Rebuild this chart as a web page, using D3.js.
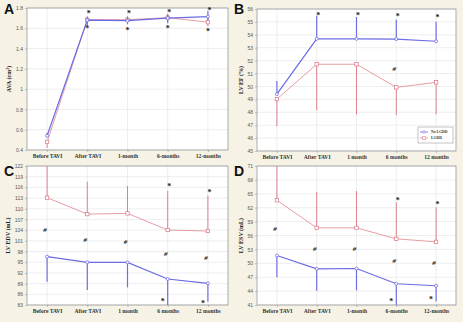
<!DOCTYPE html>
<html><head><meta charset="utf-8">
<script src="https://cdn.jsdelivr.net/npm/d3@7"></script>
<style>
html,body{margin:0;padding:0;background:#f6f3e6;}
svg{display:block;}
</style></head>
<body>
<svg id="c" width="463" height="322"></svg>
<script>
// ---------- DATA ----------
const catsDash = ["Before TAVI","After TAVI","1-month","6-months","12-months"];
const catsSpace = ["Before TAVI","After TAVI","1 month","6 months","12 months"];
const seriesNames = ["No LGDD","LGDD"];

// A: AVA (cm2)
const avaNo     = [0.54, 1.68, 1.675, 1.70, 1.715];
const avaNoHi   = [0.57, 1.71, 1.71, 1.74, 1.77];
const avaNoLo   = [0.54, 1.63, 1.64, 1.65, 1.68];
const avaL      = [0.48, 1.685, 1.685, 1.705, 1.66];
const avaLHi    = [0.48, 1.72, 1.72, 1.73, 1.70];
const avaLLo    = [0.42, 1.66, 1.65, 1.67, 1.62];
const avaStarTop = [null, 1.75, 1.75, 1.76, 1.78];
const avaStarBot = [null, 1.60, 1.59, 1.60, 1.58];
const avaHash    = [null, null, null, null, null];
const avaTicks = [0.4,0.6,0.8,1,1.2,1.4,1.6,1.8];

// B: LV EF (%)
const efNo    = [49.4, 53.69, 53.69, 53.67, 53.5];
const efNoHi  = [50.42, 55.48, 55.38, 55.17, 55.01];
const efNoLo  = [49.4, 53.69, 53.69, 53.67, 53.5];
const efL     = [49.02, 51.72, 51.72, 49.93, 50.32];
const efLHi   = [49.02, 51.72, 51.72, 49.93, 50.32];
const efLLo   = [46.92, 48.16, 47.83, 47.77, 47.85];
const efStarTop = [null, 55.58, 55.58, 55.48, 55.43];
const efStarBot = [null, null, null, null, null];
const efHash    = [null, null, null, 51.4, null];
const efTicks = [45,46,47,48,49,50,51,52,53,54,55,56];

// C: LV EDV (mL)
const edvNo   = [96.56, 94.97, 94.97, 90.29, 89.08];
const edvNoHi = [96.56, 94.97, 94.97, 90.29, 89.08];
const edvNoLo = [89.5, 87.2, 87.96, 83.0, 83.9];
const edvL    = [113.1, 108.5, 108.7, 104.04, 103.76];
const edvLHi  = [122, 117.6, 116.4, 115.0, 113.7];
const edvLLo  = [113.1, 108.5, 108.7, 104.04, 103.76];
const edvStarTop = [null, null, null, 116.4, 114.8];
const edvStarBot = [null, null, null, 84.2, 83.75];
const edvHash     = [104.2, 101.4, 100.8, 97.4, 96.4];
const edvTicks = [83,86,89,92,95,98,101,104,107,110,113,116,119,122];

// D: LV ESV (mL)
const esvNo   = [51.68, 48.8, 48.88, 45.58, 45.15];
const esvNoHi = [51.68, 48.8, 48.88, 45.58, 45.15];
const esvNoLo = [47.0, 44.07, 44.14, 41.0, 41.77];
const esvL    = [63.6, 57.65, 57.65, 55.28, 54.63];
const esvLHi  = [71, 65.4, 65.6, 63.2, 62.1];
const esvLLo  = [63.6, 57.65, 57.65, 55.28, 54.63];
const esvStarTop = [null, null, null, 63.7, 62.75];
const esvStarBot = [null, null, null, 41.9, 42.3];
const esvHash     = [57.5, 53.2, 53.2, 50.6, 50.2];
const esvTicks = [41,44,47,50,53,56,59,62,65,68,71];

// ---------- LAYOUT ----------
const panels = [
  {letter:"A", cats:catsDash, title:"AVA (cm", sup:"2", titleEnd:")", domain:[0.4,1.8], ticks:avaTicks,
   no:[avaNo,avaNoLo,avaNoHi], l:[avaL,avaLLo,avaLHi], starTop:avaStarTop, starBot:avaStarBot, hash:avaHash,
   box:{l:27,r:228,t:8,b:150}, lx:4, ly:14, tx:11, legend:false},
  {letter:"B", cats:catsSpace, title:"LV EF (%)", domain:[45,56], ticks:efTicks,
   no:[efNo,efNoLo,efNoHi], l:[efL,efLLo,efLHi], starTop:efStarTop, starBot:efStarBot, hash:efHash,
   box:{l:257,r:456,t:9,b:151}, lx:234, ly:14, tx:243, legend:true},
  {letter:"C", cats:catsSpace, title:"LV EDV (mL)", domain:[83,122], ticks:edvTicks,
   no:[edvNo,edvNoLo,edvNoHi], l:[edvL,edvLLo,edvLHi], starTop:edvStarTop, starBot:edvStarBot, hash:edvHash,
   box:{l:27,r:228,t:166,b:305}, lx:4, ly:176, tx:10, legend:false},
  {letter:"D", cats:catsDash, title:"LV ESV (mL)", domain:[41,71], ticks:esvTicks,
   no:[esvNo,esvNoLo,esvNoHi], l:[esvL,esvLLo,esvLHi], starTop:esvStarTop, starBot:esvStarBot, hash:esvHash,
   box:{l:257,r:456,t:166,b:305}, lx:234, ly:176, tx:243, legend:false}
];

const blue = "#6b6be6", blueBar = "#6f6fe4";
const red = "#e3929a", redBar = "#d97582";
const serif = "'Liberation Serif','DejaVu Serif',serif";
const sans = "'Liberation Sans','DejaVu Sans',sans-serif";

const svg = d3.select("#c");
svg.append("rect").attr("width",463).attr("height",322).attr("fill","#f6f3e6");

panels.forEach(p => {
  const g = svg.append("g");
  const B = p.box;
  const x = d3.scalePoint().domain(p.cats).range([B.l,B.r]).padding(0.5);
  const y = d3.scaleLinear().domain(p.domain).range([B.b,B.t]);

  g.append("rect").attr("x",B.l).attr("y",B.t).attr("width",B.r-B.l).attr("height",B.b-B.t)
    .attr("fill","#ffffff");

  // grid
  g.selectAll(".hg").data(p.ticks).join("line")
    .attr("x1",B.l).attr("x2",B.r).attr("y1",d=>y(d)).attr("y2",d=>y(d))
    .attr("stroke","#e2e2e2").attr("stroke-width",0.6);
  g.selectAll(".vg").data(p.cats).join("line")
    .attr("x1",d=>x(d)).attr("x2",d=>x(d)).attr("y1",B.t).attr("y2",B.b)
    .attr("stroke","#e2e2e2").attr("stroke-width",0.6);

  g.append("rect").attr("x",B.l).attr("y",B.t).attr("width",B.r-B.l).attr("height",B.b-B.t)
    .attr("fill","none").attr("stroke","#9a9a9a").attr("stroke-width",0.8);

  // y axis ticks
  const ya = d3.axisLeft(y).tickValues(p.ticks).tickSize(2).tickFormat(d3.format("~g"));
  const yg = g.append("g").attr("transform",`translate(${B.l},0)`).call(ya);
  yg.select(".domain").remove();
  yg.selectAll(".tick line").attr("stroke","#888").attr("stroke-width",0.5);
  yg.selectAll(".tick text").attr("font-family",sans).attr("font-size",5).attr("fill","#555").attr("x",-4);

  // x axis
  const xa = d3.axisBottom(x).tickSize(2);
  const xg = g.append("g").attr("transform",`translate(0,${B.b})`).call(xa);
  xg.select(".domain").remove();
  xg.selectAll(".tick line").attr("stroke","#888").attr("stroke-width",0.5);
  xg.selectAll(".tick text").attr("font-family",serif).attr("font-weight","bold")
    .attr("font-size",5.6).attr("fill","#333").attr("y",4);

  // y title
  const cy = (B.t+B.b)/2;
  const t = g.append("text").attr("transform",`translate(${p.tx},${cy}) rotate(-90)`)
    .attr("text-anchor","middle").attr("font-family",serif).attr("font-weight","bold")
    .attr("font-size",6).attr("fill","#222");
  t.append("tspan").text(p.title);
  if (p.sup) {
    t.append("tspan").text(p.sup).attr("font-size",4).attr("dy",-2);
    t.append("tspan").text(p.titleEnd).attr("dy",2);
  }

  // panel letter
  g.append("text").attr("x",p.lx).attr("y",p.ly).text(p.letter)
    .attr("font-family",sans).attr("font-weight","bold").attr("font-size",14).attr("fill","#111");

  const clip = "clip"+p.letter;
  g.append("clipPath").attr("id",clip).append("rect")
    .attr("x",B.l).attr("y",B.t).attr("width",B.r-B.l).attr("height",B.b-B.t);
  const pg = g.append("g").attr("clip-path",`url(#${clip})`);

  const drawSeries = (s, lineCol, barCol, lw, marker) => {
    const [vals, lo, hi] = s;
    const pts = p.cats.map((c,i)=>({c, v:vals[i], lo:lo[i], hi:hi[i]}));
    pg.selectAll(null).data(pts).join("line")
      .attr("x1",d=>x(d.c)).attr("x2",d=>x(d.c)).attr("y1",d=>y(d.lo)).attr("y2",d=>y(d.hi))
      .attr("stroke",barCol).attr("stroke-width",lw);
    pg.append("path").datum(pts)
      .attr("d",d3.line().x(d=>x(d.c)).y(d=>y(d.v)))
      .attr("fill","none").attr("stroke",lineCol).attr("stroke-width",lw);
    if (marker==="circle") {
      pg.selectAll(null).data(pts).join("circle")
        .attr("cx",d=>x(d.c)).attr("cy",d=>y(d.v)).attr("r",1.5)
        .attr("fill","#fff").attr("stroke",barCol).attr("stroke-width",0.8);
    } else {
      pg.selectAll(null).data(pts).join("rect")
        .attr("x",d=>x(d.c)-1.7).attr("y",d=>y(d.v)-1.7).attr("width",3.4).attr("height",3.4)
        .attr("fill","#fff").attr("stroke",barCol).attr("stroke-width",0.7);
    }
  };
  drawSeries(p.l, red, redBar, 0.9, "square");
  drawSeries(p.no, blue, blueBar, 1.2, "circle");

  // significance marks
  const mark = (arr, ch, dx, style) => {
    const d = p.cats.map((c,i)=>({c, v:arr[i]})).filter(d=>d.v!==null);
    g.selectAll(null).data(d).join("text")
      .attr("x",e=>x(e.c)+dx).attr("y",e=>y(e.v)+(ch==="*"?3.2:2.3))
      .attr("text-anchor","middle").text(ch)
      .attr("font-family",serif).attr("font-weight","bold")
      .attr("font-style",style).attr("font-size",ch==="*"?8:7).attr("fill","#222");
  };
  mark(p.starTop, "*", 1.5, "normal");
  mark(p.starBot, "*", p.letter==="A"?0:-5, "normal");
  mark(p.hash, "#", -2, "italic");

  if (p.legend) {
    const lg = g.append("g");
    lg.append("rect").attr("x",418).attr("y",127).attr("width",35).attr("height",16)
      .attr("fill","#fff").attr("stroke","#888").attr("stroke-width",0.5);
    seriesNames.forEach((n,i)=>{
      const yy = 132 + i*6;
      const col = i===0?blueBar:redBar;
      lg.append("line").attr("x1",420).attr("x2",428).attr("y1",yy).attr("y2",yy)
        .attr("stroke",i===0?blue:red).attr("stroke-width",0.8);
      if (i===0) lg.append("circle").attr("cx",424).attr("cy",yy).attr("r",1.3)
        .attr("fill","#fff").attr("stroke",col).attr("stroke-width",0.6);
      else lg.append("rect").attr("x",422.7).attr("y",yy-1.3).attr("width",2.6).attr("height",2.6)
        .attr("fill","#fff").attr("stroke",col).attr("stroke-width",0.6);
      lg.append("text").attr("x",431).attr("y",yy+1.3).text(n)
        .attr("font-family",serif).attr("font-weight","bold").attr("font-size",3.8).attr("fill","#333");
    });
  }
});
</script>
</body></html>
